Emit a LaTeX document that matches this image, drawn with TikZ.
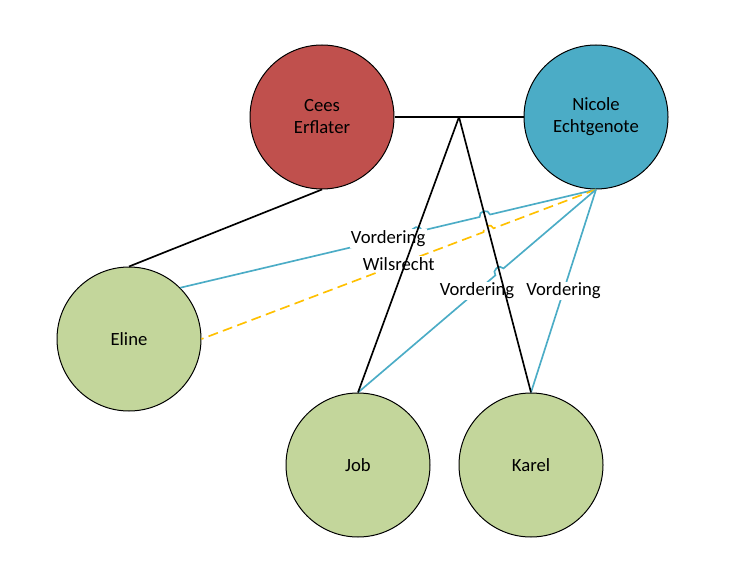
\documentclass[tikz,border=0pt]{standalone}
\usepackage{fontspec}
\setmainfont{Carlito}
\usetikzlibrary{calc,intersections}

\definecolor{erflred}{HTML}{C0504D}
\definecolor{partblue}{HTML}{4BACC6}
\definecolor{kindgreen}{HTML}{C3D69B}
\definecolor{willorange}{HTML}{FFC000}

\begin{document}
\begin{tikzpicture}[
  x=0.75pt, y=-0.75pt,
  person/.style={circle, draw=black, line width=0.75pt, minimum size=108pt,
    inner sep=0pt, align=center, font=\fontsize{14}{16.5}\selectfont},
  bond/.style={black, line width=1.25pt},
  claim/.style={partblue, line width=1.25pt},
  will/.style={willorange, line width=1.25pt, dash pattern=on 7.5pt off 4pt},
  lbl/.style={fill=white, inner sep=1pt, font=\fontsize{14}{16.5}\selectfont},
  hopto/.style={bend right=90, looseness=1.5}
]
  \def\hop{4pt}
  \useasboundingbox (0,0) rectangle (735,574);

  % -- persons --
  \node[person, fill=erflred]   (cees)   at (322,117) {Cees\\Erflater};
  \node[person, fill=partblue]  (nicole) at (596,117) {Nicole\\Echtgenote};
  \node[person, fill=kindgreen] (eline)  at (129,339) {Eline};
  \node[person, fill=kindgreen] (job)    at (358,465) {Job};
  \node[person, fill=kindgreen] (karel)  at (531,465) {Karel};

  \coordinate (junc) at (459,117);

  % -- crossings for the line hops --
  \path[name path=jj] (junc) -- (job.north);
  \path[name path=jk] (junc) -- (karel.north);
  \path[name path=ce] (nicole.south) -- (eline.north east);
  \path[name path=oe] (nicole.south) -- (eline.east);
  \path[name path=cj] (nicole.south) -- (job.north);
  \path[name intersections={of=ce and jk, by=h1}];
  \path[name intersections={of=ce and jj, by=h2}];
  \path[name intersections={of=oe and jk, by=h3}];
  \path[name intersections={of=oe and jj, by=h4}];
  \path[name intersections={of=cj and jk, by=h5}];

  % -- claims of the children --
  \draw[claim] (nicole.south)
    -- ($(h1)!\hop!(nicole.south)$) to[hopto] ($(h1)!\hop!(eline.north east)$)
    -- ($(h2)!\hop!(nicole.south)$) to[hopto] ($(h2)!\hop!(eline.north east)$)
    -- (eline.north east);
  \draw[will] (nicole.south)
    -- ($(h3)!\hop!(nicole.south)$) to[hopto] ($(h3)!\hop!(eline.east)$)
    -- ($(h4)!\hop!(nicole.south)$) to[hopto] ($(h4)!\hop!(eline.east)$)
    -- (eline.east);
  \draw[claim] (nicole.south)
    -- ($(h5)!\hop!(nicole.south)$) to[hopto] ($(h5)!\hop!(job.north)$)
    -- (job.north);
  \draw[claim] (nicole.south) -- (karel.north);

  % -- labels --
  \node[lbl] (vel) at ($(nicole.south)!0.5!(eline.north east)$) {Vordering};
  \node[lbl] (wel) at ($(nicole.south)!0.5!(eline.east)$) {Wilsrecht};
  \node[lbl] (vjo) at ($(nicole.south)!0.5!(job.north)$) {Vordering};
  \node[lbl] (vka) at ($(nicole.south)!0.5!(karel.north)$) {Vordering};

  % -- family lines --
  \draw[bond] (cees.east) -- (nicole.west);
  \draw[bond] (junc) -- (job.north);
  \draw[bond] (junc) -- (karel.north);
  \draw[bond] (cees.south) -- (eline.north);

\end{tikzpicture}
\end{document}
